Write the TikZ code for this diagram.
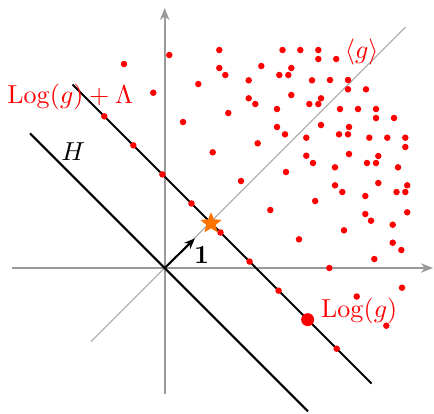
\documentclass[tikz,border=0pt]{standalone}
\usetikzlibrary{arrows.meta,shapes.geometric}
\begin{document}
\begin{tikzpicture}[x=0.3846pt,y=-0.3846pt,
  axisline/.style={black!40,line width=0.8pt,-{Stealth[length=4.6pt,width=3.6pt,inset=1.4pt]}},
  diagline/.style={black!35,line width=0.4pt},
  lattline/.style={black,line width=0.8pt},
  dot/.style={circle,fill=red,inner sep=0pt,minimum size=2.5pt},
  bigdot/.style={circle,fill=red,inner sep=0pt,minimum size=5pt},
  lab/.style={inner sep=0pt}]
\useasboundingbox (0,0) rectangle (434,413);
% axes
\coordinate (O) at (164.7,268);
\coordinate (xl) at (11.7,268);
\coordinate (xr) at (433,268);
\coordinate (yb) at (164.7,394.3);
\coordinate (yt) at (164.7,8);
\coordinate (dl) at (91,341.7);
\coordinate (du) at (405.7,27);
\draw[diagline] (dl) -- (du);
\draw[axisline] (xl) -- (xr);
\draw[axisline] (yb) -- (yt);
% lines
\coordinate (h1) at (30,133.3);
\coordinate (h2) at (308,411.3);
\coordinate (l1) at (72.5,84.5);
\coordinate (l2) at (371.5,383.5);
\draw[lattline] (h1) -- (h2);
\draw[lattline] (l1) -- (l2);
% dots on the line
\foreach \k in {0,1,2,3,4,5,6,8}
  \node[dot] (ld\k) at ({104.3+29.05*\k},{116.3+29.05*\k}) {};
\node[bigdot] (logg) at ({104.3+29.05*7},{116.3+29.05*7}) {};
% other dots
\foreach \x/\y [count=\i] in {124/64, 169.3/55, 153.3/92.7, 198.3/84, 183/122, 212.7/152.3,
  219.3/50, 282.5/50, 300.3/50, 318.3/50, 318.3/59, 336.2/59,
  219.3/68, 225.3/75, 261.3/66, 291.3/68, 279.3/75, 288.3/75,
  248.7/80.3, 312/80.3, 330/80, 348/80, 348/89.3, 366/89.3,
  291.3/95, 248.7/98.3, 255.3/104, 321/98.3, 309.3/104, 318.3/104,
  228.3/113, 277/109, 340/109, 358/109, 376/109, 376/118, 394/118,
  277/127, 285/134.3, 321/125, 349/127, 339/134.3, 348/134.3,
  306.3/137.7, 369.3/137.7, 387.3/137.7, 405.3/137.7, 405.3/147,
  257.7/143.3, 306.3/155.7, 313/163, 349/154, 378.3/156,
  335/167.3, 367/163, 376/163, 398/167.3,
  286/172, 241/181, 335/185.3, 342.3/192, 378.3/183, 407.2/185.3,
  396.5/192, 405.3/192, 365.3/196, 315.2/201,
  270.3/210, 365.3/214, 371/220.7, 407.2/212.3, 392.7/224.7,
  344/230.3, 299/239.3, 392.7/242.7, 401.3/250, 374.3/259,
  329.3/268, 402/287.7, 356.7/296.5, 386.3/325.7}
  \node[dot] (p\i) at (\x,\y) {};
% star and unit vector
\coordinate (v1) at (195,238.3);
\draw[black,line width=0.8pt,-{Stealth[length=4.2pt,width=3.3pt,inset=1.3pt]}] (O) -- (v1);
\node[star,star points=5,star point ratio=2.2,fill={rgb,255:red,255;green,115;blue,0},inner sep=0pt,minimum size=8.5pt] (st) at (211,223.3) {};
% labels
\node[lab] (one) at (201.7,255) {$\mathbf{1}$};
\node[lab,red] (lablam) at (70.3,97) {$\mathrm{Log}(g)+\Lambda$};
\node[lab] (labH) at (73.3,151.7) {$H$};
\node[lab,red] (labg) at (361.7,51.7) {$\langle g\rangle$};
\node[lab,red] (labLog) at (359.2,310.7) {$\mathrm{Log}(g)$};
\end{tikzpicture}
\end{document}
